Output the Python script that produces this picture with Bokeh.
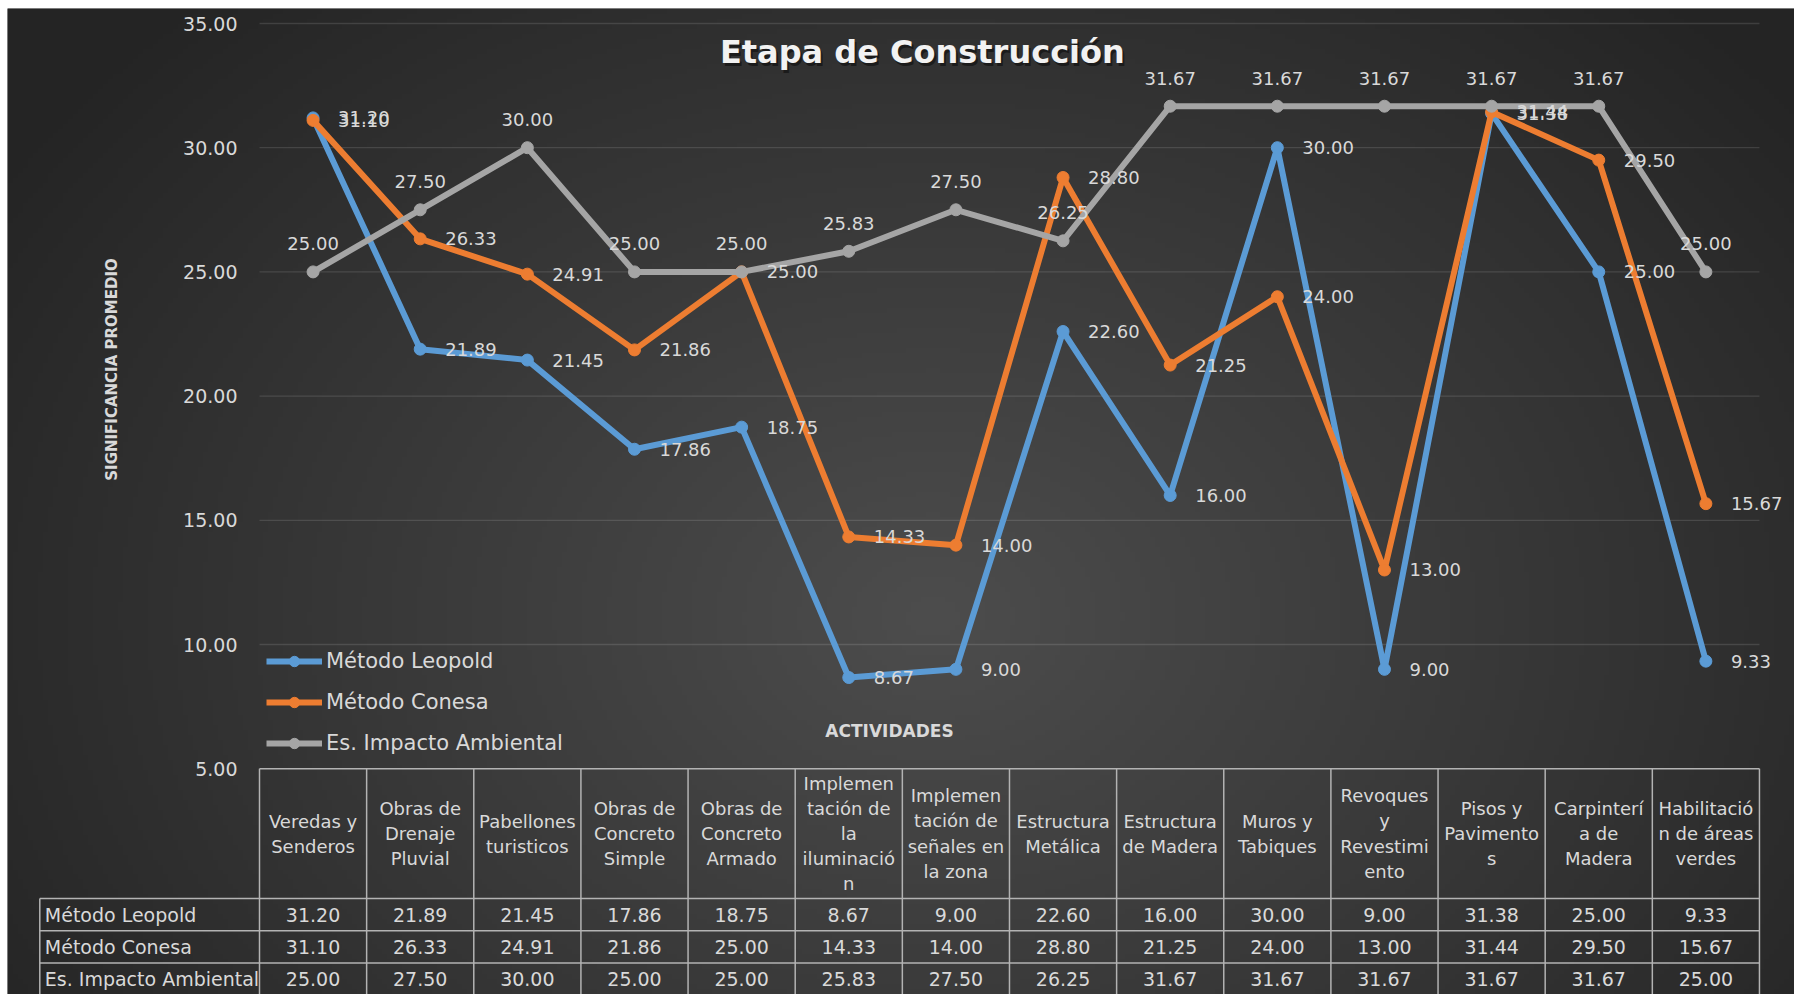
import numpy as np
from bokeh.plotting import figure
from bokeh.models import (Range1d, LinearAxis, FixedTicker, PrintfTickFormatter,
                          Legend, LegendItem)
from bokeh.core.properties import value
from bokeh.embed import file_html
from bokeh.resources import INLINE

# ---------------- data ----------------
categories = [
    "Veredas y\nSenderos",
    "Obras de\nDrenaje\nPluvial",
    "Pabellones\nturisticos",
    "Obras de\nConcreto\nSimple",
    "Obras de\nConcreto\nArmado",
    "Implemen\ntación de\nla\niluminació\nn",
    "Implemen\ntación de\nseñales en\nla zona",
    "Estructura\nMetálica",
    "Estructura\nde Madera",
    "Muros y\nTabiques",
    "Revoques\ny\nRevestimi\nento",
    "Pisos y\nPavimento\ns",
    "Carpinterí\na de\nMadera",
    "Habilitació\nn de áreas\nverdes",
]
leopold = [31.20, 21.89, 21.45, 17.86, 18.75, 8.67, 9.00, 22.60, 16.00, 30.00, 9.00, 31.38, 25.00, 9.33]
conesa = [31.10, 26.33, 24.91, 21.86, 25.00, 14.33, 14.00, 28.80, 21.25, 24.00, 13.00, 31.44, 29.50, 15.67]
impacto = [25.00, 27.50, 30.00, 25.00, 25.00, 25.83, 27.50, 26.25, 31.67, 31.67, 31.67, 31.67, 31.67, 25.00]
series_names = ["Método Leopold", "Método Conesa", "Es. Impacto Ambiental"]
y_ticks = [5, 10, 15, 20, 25, 30, 35]
title_text = "Etapa  de  Construcción"
y_label_text = "SIGNIFICANCIA PROMEDIO"
x_label_text = "ACTIVIDADES"

# ---------------- layout helpers (page pixels -> data) ----------------
W, H = 1794, 994
FL, FT = 7, 8               # frame left / top on the page
X0, CW = 259.0, 107.14      # left edge of plot area, column width (px)
Y35, PPU = 23.0, 24.84      # pixel of 35.00 line, pixels per unit


def xd(px):
    return (px - X0) / CW


def yd(py):
    return 35 - (py - Y35) / PPU


FONT = "DejaVu Sans"
TXT = "#d9d9d9"
COLORS = ["#5B9BD5", "#ED7D31", "#A5A5A5"]

x_rng = Range1d(xd(FL), xd(W))
y_rng = Range1d(yd(H), yd(FT))

p = figure(width=W, height=H, x_range=x_rng, y_range=y_rng,
           output_backend="svg", toolbar_location=None,
           x_axis_location=None, y_axis_location=None,
           min_border_left=FL, min_border_top=FT, min_border_right=0,
           min_border_bottom=0,
           outline_line_color=None, background_fill_color="#333333",
           border_fill_color="#ffffff")
p.xgrid.visible = False
p.ygrid.visible = False

# ---------------- background gradient ----------------
nx, ny = 358, 198
jj, ii = np.mgrid[0:ny, 0:nx]
pxs = FL + (ii + 0.5) * (W - FL) / nx
pys = H - (jj + 0.5) * (H - FT) / ny
cx, cy = 0.52 * W, 0.62 * H
d = np.sqrt(((pxs - cx) / (0.62 * W)) ** 2 + ((pys - cy) / (0.85 * H)) ** 2)
v = (77 - 41 * np.clip(d, 0, 1)).astype(np.uint32)
img = (255 << 24) | (v << 16) | (v << 8) | v
p.image_rgba(image=[img.astype(np.uint32)], x=x_rng.start, y=y_rng.start,
             dw=x_rng.end - x_rng.start, dh=y_rng.end - y_rng.start)

n = len(categories)
xs = [i + 0.5 for i in range(n)]

# ---------------- gridlines ----------------
grid_vals = y_ticks[1:]
p.segment(x0=[0] * len(grid_vals), x1=[n] * len(grid_vals), y0=grid_vals, y1=grid_vals,
          line_color="#ffffff", line_alpha=0.12, line_width=1.3)

# ---------------- axis ----------------
yax = LinearAxis(fixed_location=0, ticker=FixedTicker(ticks=y_ticks),
                 formatter=PrintfTickFormatter(format="%.2f"))
yax.axis_line_color = None
yax.major_tick_line_color = None
yax.minor_tick_line_color = None
yax.major_tick_out = 0
yax.major_tick_in = 0
yax.major_label_standoff = 22
yax.major_label_text_font = FONT
yax.major_label_text_font_size = "19px"
yax.major_label_text_color = TXT
p.add_layout(yax, "left")

# ---------------- data table ----------------
header_top = y_ticks[0]
row_bounds = [yd(898), yd(930.2), yd(962.4), yd(994.6)]
left_edge = xd(39.3)
TL = "#b3b3b3"
p.segment(x0=list(range(n + 1)), x1=list(range(n + 1)),
          y0=[header_top] * (n + 1), y1=[row_bounds[-1]] * (n + 1),
          line_color=TL, line_width=1.5)
p.segment(x0=[left_edge], x1=[left_edge], y0=[row_bounds[0]], y1=[row_bounds[-1]],
          line_color=TL, line_width=1.5)
p.segment(x0=[0], x1=[n], y0=[header_top], y1=[header_top], line_color=TL, line_width=1.5)
p.segment(x0=[left_edge] * 3, x1=[n] * 3, y0=row_bounds[:3], y1=row_bounds[:3],
          line_color=TL, line_width=1.5)

p.text(x=xs, y=[(header_top + row_bounds[0]) / 2] * n, text=categories,
       text_align="center", text_baseline="middle", text_font=value(FONT),
       text_font_size="18px", text_color=TXT, text_line_height=1.2)

all_series = [leopold, conesa, impacto]
for k, vals in enumerate(all_series):
    yc = (row_bounds[k] + row_bounds[k + 1]) / 2
    p.text(x=xs, y=[yc] * n, text=[f"{val:.2f}" for val in vals],
           text_align="center", text_baseline="middle", text_font=value(FONT),
           text_font_size="19px", text_color=TXT)
    p.text(x=[xd(44.3)], y=[yc], text=[series_names[k]], text_align="left",
           text_baseline="middle", text_font=value(FONT), text_font_size="19px",
           text_color=TXT)

# ---------------- series ----------------
items = []
for k, vals in enumerate(all_series):
    lr = p.line(x=xs, y=vals, line_color=COLORS[k], line_width=6, line_join="round")
    sr = p.scatter(x=xs, y=vals, size=12, marker="circle", fill_color=COLORS[k],
                   line_color=COLORS[k])
    items.append(LegendItem(label=series_names[k], renderers=[lr, sr]))

for k, vals in enumerate(all_series):
    labels = [f"{val:.2f}" for val in vals]
    if k < 2:
        p.text(x=xs, y=vals, text=labels, x_offset=25, text_align="left",
               text_baseline="middle", text_font=value(FONT), text_font_size="18px",
               text_color=TXT)
    else:
        p.text(x=xs, y=vals, text=labels, y_offset=-28, text_align="center",
               text_baseline="middle", text_font=value(FONT), text_font_size="18px",
               text_color=TXT)

# ---------------- texts ----------------
p.text(x=[xd(933)], y=[yd(51)], text=[title_text], x_offset=2, y_offset=3,
       text_align="center", text_baseline="middle", text_font=value(FONT),
       text_font_size="32px", text_font_style="bold", text_color="#000000",
       text_alpha=0.45)
p.text(x=[xd(933)], y=[yd(51)], text=[title_text], text_align="center",
       text_baseline="middle", text_font=value(FONT), text_font_size="32px",
       text_font_style="bold", text_color="#f2f2f2")
p.text(x=[xd(111.5)], y=[yd(369)], text=[y_label_text], angle=np.pi / 2,
       text_align="center", text_baseline="middle", text_font=value(FONT),
       text_font_size="15px", text_font_style="bold", text_color=TXT)
p.text(x=[xd(889)], y=[yd(730.7)], text=[x_label_text], text_align="center",
       text_baseline="middle", text_font=value(FONT), text_font_size="17px",
       text_font_style="bold", text_color=TXT)

# ---------------- legend ----------------
legend = Legend(items=items, location=(259, 238), orientation="vertical",
                glyph_width=56, glyph_height=26, label_height=26, spacing=15,
                label_standoff=4, padding=0, margin=0,
                label_text_font=FONT, label_text_font_size="21px",
                label_text_color=TXT, background_fill_alpha=0,
                border_line_color=None)
p.add_layout(legend, "center")

open("out.html", "w").write(file_html(p, INLINE))
